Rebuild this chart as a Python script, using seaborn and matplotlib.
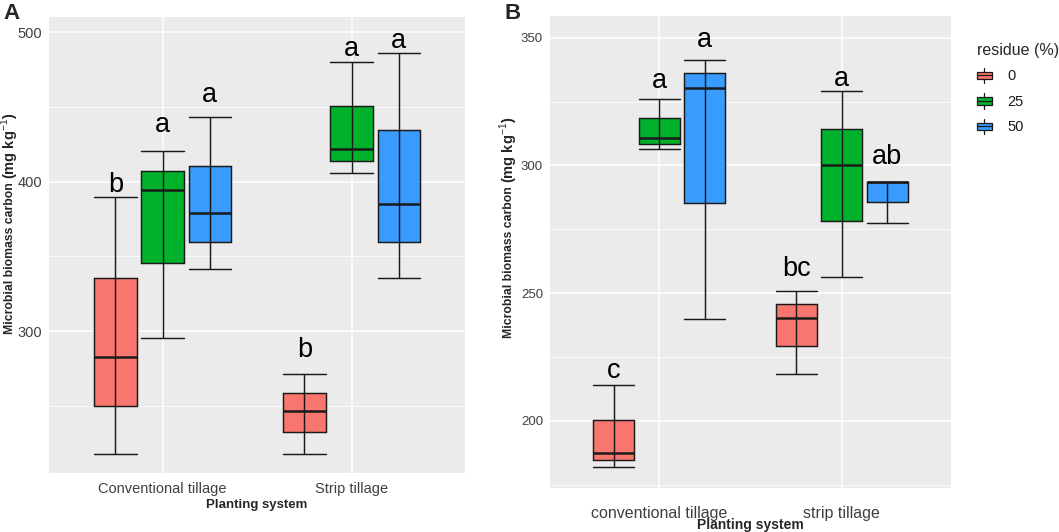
import numpy as np
import pandas as pd
import matplotlib
matplotlib.use("Agg")
import matplotlib.pyplot as plt
import seaborn as sns
from matplotlib.ticker import MultipleLocator
from matplotlib.legend_handler import HandlerBase
from matplotlib.patches import Rectangle, Patch
from matplotlib.lines import Line2D

# ---------------- data ----------------
residue_levels = ["0", "25", "50"]
palette = ["#F8766D", "#00B22B", "#3A9BFF"]

# Panel A: five-number summaries [min, q1, median, q3, max]
systems_a = ["Conventional tillage", "Strip tillage"]
a_conv_0 = [217.9, 250.0, 282.6, 335.7, 389.5]
a_conv_25 = [295.3, 345.3, 394.4, 407.4, 420.8]
a_conv_50 = [341.3, 359.8, 379.2, 410.7, 443.1]
a_strip_0 = [217.9, 232.1, 246.2, 258.3, 271.2]
a_strip_25 = [405.6, 413.6, 421.9, 450.7, 480.4]
a_strip_50 = [335.7, 359.8, 384.8, 434.6, 485.9]
letters_a = ["b", "a", "a", "b", "a", "a"]
letter_y_a = [393.3, 433.5, 453.6, 282.8, 484.2, 489.7]

# Panel B
systems_b = ["conventional tillage", "strip tillage"]
b_conv_0 = [182.0, 184.6, 187.5, 200.5, 214.0]
b_conv_25 = [306.5, 308.4, 310.6, 318.5, 326.0]
b_conv_50 = [240.0, 285.2, 330.5, 336.0, 341.3]
b_strip_0 = [218.3, 229.3, 240.3, 245.6, 251.0]
b_strip_25 = [256.5, 278.3, 300.1, 314.2, 329.1]
b_strip_50 = [277.5, 285.6, 293.6, 293.6, 293.6]
letters_b = ["c", "a", "a", "bc", "a", "ab"]
letter_y_b = [216.6, 330.5, 346.5, 256.7, 331.0, 300.5]


def long_df(systems, groups):
    rows = []
    for si, s in enumerate(systems):
        for ri, r in enumerate(residue_levels):
            for v in groups[si][ri]:
                rows.append({"system": s, "residue": r, "value": v})
    return pd.DataFrame(rows)


df_a = long_df(systems_a, [[a_conv_0, a_conv_25, a_conv_50],
                           [a_strip_0, a_strip_25, a_strip_50]])
df_b = long_df(systems_b, [[b_conv_0, b_conv_25, b_conv_50],
                           [b_strip_0, b_strip_25, b_strip_50]])

# ---------------- style ----------------
sns.set_theme(style="darkgrid", rc={
    "axes.facecolor": "#EBEBEB",
    "grid.color": "white",
    "axes.edgecolor": "#EBEBEB",
})
plt.rcParams["font.family"] = ["Liberation Sans", "DejaVu Sans"]
plt.rcParams["mathtext.fontset"] = "custom"
plt.rcParams["mathtext.rm"] = "Liberation Sans"
plt.rcParams["mathtext.bf"] = "Liberation Sans:bold"

W, H = 1059, 532
fig = plt.figure(figsize=(W / 100, H / 100), dpi=100)

TOTAL_W = 0.75
GAP = 0.1
BW = TOTAL_W / 3 * (1 - GAP)
LINEC = "#1a1a1a"


def px_rect(l, t, r, b):
    return [l / W, 1 - b / H, (r - l) / W, (b - t) / H]


def draw_panel(ax, df, systems, ylim, major, minor, letters, letter_y,
               xtick_size, ytick_size, xpad):
    sns.boxplot(data=df, x="system", y="value", hue="residue",
                order=systems, hue_order=residue_levels, palette=palette,
                width=TOTAL_W, gap=GAP, whis=(0, 100), saturation=1,
                linecolor=LINEC, linewidth=1.05, legend=False, ax=ax,
                medianprops=dict(linewidth=1.8, color=LINEC))
    # ggplot-like: errorbar caps as wide as boxes, range line through the box
    vert = {}
    for ln in list(ax.lines):
        x = np.asarray(ln.get_xdata(), float)
        y = np.asarray(ln.get_ydata(), float)
        if len(x) != 2:
            continue
        if np.isclose(x[0], x[1]):
            vert.setdefault(round(float(x[0]), 4), []).append(ln)
        elif np.isclose(y[0], y[1]):
            span = abs(x[1] - x[0])
            if span < 0.9 * BW:
                c = x.mean()
                ln.set_xdata([c - BW / 2, c + BW / 2])
                ln.set_linewidth(1.05)
    for key, ls in vert.items():
        ys = np.concatenate([np.asarray(l.get_ydata(), float) for l in ls])
        ls[0].set_ydata([ys.min(), ys.max()])
        ls[0].set_zorder(6)
        for l in ls[1:]:
            l.set_visible(False)

    # significance letters
    offsets = [(i - 1) * TOTAL_W / 3 for i in range(3)]
    k = 0
    for si in range(len(systems)):
        for ri in range(3):
            ax.text(si + offsets[ri], letter_y[k], letters[k], ha="center",
                    va="baseline", fontsize=19.5, color="black")
            k += 1

    ax.set_xlim(-0.6, 1.6)
    ax.set_ylim(*ylim)
    ax.yaxis.set_major_locator(MultipleLocator(major))
    ax.yaxis.set_minor_locator(MultipleLocator(minor))
    ax.grid(which="major", color="white", linewidth=1.1)
    ax.grid(which="minor", axis="y", color="white", linewidth=0.55)
    ax.set_axisbelow(True)
    for sp in ax.spines.values():
        sp.set_visible(False)
    ax.tick_params(axis="both", which="major", length=3, width=0.8,
                   color="#333333", labelcolor="#404040")
    ax.tick_params(axis="y", which="major", pad=2, labelsize=ytick_size)
    ax.tick_params(axis="x", which="major", pad=xpad, labelsize=xtick_size)
    ax.tick_params(which="minor", length=0)
    ax.set_xlabel("")
    ax.set_ylabel("")


ax_a = fig.add_axes(px_rect(49.3, 16.7, 465, 473.3))
draw_panel(ax_a, df_a, systems_a, (204.7, 510.5), 100, 50, letters_a,
           letter_y_a, 10.5, 10.5, 3)

ax_b = fig.add_axes(px_rect(550, 16, 951, 487.5))
draw_panel(ax_b, df_b, systems_b, (173.9, 358.5), 50, 25, letters_b,
           letter_y_b, 11.5, 9.5, 10)

# panel tags
fig.text(3 / W, 1 - 3 / H, "A", fontsize=16, fontweight="bold", va="top", ha="left")
fig.text(504 / W, 1 - 3 / H, "B", fontsize=16, fontweight="bold", va="top", ha="left")

# y axis titles (two parts, as in the figure)
renderer = fig.canvas.get_renderer()
for xc, ybot in [(10, 334), (509, 338)]:
    t1 = fig.text(xc / W, 1 - ybot / H, "Microbial biomass carbon", rotation=90,
                  ha="center", va="bottom", fontsize=8.8, fontweight="bold")
    bb = t1.get_window_extent(renderer)
    fig.text(xc / W, (bb.y1 + 3) / H, r"(mg kg$^{-1}$)", rotation=90,
             ha="center", va="bottom", fontsize=10.5, fontweight="bold")

# x axis titles
fig.text(257 / W, 1 - 505 / H, "Planting system", ha="center", va="center",
         fontsize=9.5, fontweight="bold")
fig.text(750 / W, 1 - 525 / H, "Planting system", ha="center", va="center",
         fontsize=10, fontweight="bold")


# legend with boxplot-style keys
class BoxKey(HandlerBase):
    def create_artists(self, legend, orig_handle, xdescent, ydescent,
                       width, height, fontsize, trans):
        x0, y0 = -xdescent, -ydescent
        cx = x0 + width / 2
        vline = Line2D([cx, cx], [y0 - 0.1 * height, y0 + 1.1 * height],
                       color=LINEC, lw=0.9, transform=trans)
        rect = Rectangle((x0, y0 + 0.22 * height), width, 0.56 * height,
                         facecolor=orig_handle.get_facecolor(),
                         edgecolor=LINEC, lw=0.9, transform=trans)
        med = Line2D([x0, x0 + width], [y0 + height / 2] * 2, color=LINEC,
                     lw=0.9, transform=trans)
        return [vline, rect, med]


handles = [Patch(facecolor=c) for c in palette]
leg = fig.legend(handles, residue_levels, title="residue (%)",
                 loc="upper left", bbox_to_anchor=(977 / W, 1 - 43 / H),
                 frameon=False, fontsize=10.5, title_fontsize=11.5,
                 handler_map={Patch: BoxKey()}, handlelength=1.0,
                 handleheight=1.0, labelspacing=0.75, handletextpad=1.1,
                 borderpad=0, borderaxespad=0, alignment="left")
for t in leg.get_texts():
    t.set_color("#1a1a1a")

fig.savefig("out.png", dpi=100)
